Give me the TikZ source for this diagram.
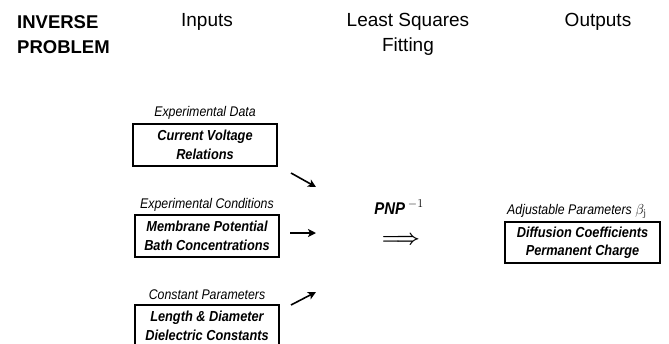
\documentclass[tikz,border=0pt]{standalone}
\usepackage[no-math]{fontspec}
\setmainfont{Liberation Sans}
\newfontfamily\condf[FakeStretch=0.88]{Liberation Sans}
\usetikzlibrary{arrows.meta}
\begin{document}
\begin{tikzpicture}[x=1pt,y=-1pt,
  hdr/.style={font=\fontsize{19}{21}\selectfont, inner sep=0pt},
  hdrb/.style={hdr, font=\fontsize{18.5}{21}\selectfont\bfseries, anchor=west},
  lbl/.style={font=\fontsize{14}{16}\selectfont\condf\itshape, inner sep=0pt},
  inbox/.style={draw, line width=1.3pt, minimum width=144pt, minimum height=42pt,
    inner sep=0pt, align=center, font=\fontsize{14.5}{18.5}\selectfont\condf\bfseries\itshape},
  outbox/.style={inbox, minimum width=155pt, minimum height=41pt},
  arr/.style={line width=1.6pt, -{Stealth[length=8pt,width=8pt,inset=2pt]}}
]
\useasboundingbox (0,0) rectangle (669,343);
\clip (0,0) rectangle (669,343);
% headers
\node[hdrb] (h1) at (17,22) {INVERSE};
\node[hdrb] (h2) at (17,47) {PROBLEM};
\node[hdr] (h3) at (207,22) {Inputs};
\node[hdr] (h4) at (408,22) {Least Squares};
\node[hdr] (h5) at (408,47) {Fitting};
\node[hdr] (h6) at (598,22) {Outputs};
% inputs
\node[lbl] (l1) at (205,113) {Experimental Data};
\node[inbox] (b1) at (205,145) {Current Voltage\\Relations};
\node[lbl] (l2) at (207,205) {Experimental Conditions};
\node[inbox] (b2) at (207,236) {Membrane Potential\\Bath Concentrations};
\node[lbl] (l3) at (207,295) {Constant Parameters};
\node[inbox] (b3) at (207,326) {Length \& Diameter\\Dielectric Constants};
% arrows
\coordinate (a1s) at (291,173); \coordinate (a1e) at (316,187);
\coordinate (a2s) at (290,233); \coordinate (a2e) at (316,233);
\coordinate (a3s) at (291,305); \coordinate (a3e) at (316,292);
\draw[arr] (a1s) -- (a1e);
\draw[arr] (a2s) -- (a2e);
\draw[arr] (a3s) -- (a3e);
% PNP
\node[inner sep=0pt, font=\fontsize{17}{19}\selectfont\condf\bfseries\itshape] (pnp) at (399,207) {PNP\,$^{-1}$};
\node[inner sep=0pt, font=\fontsize{20}{22}\selectfont\boldmath] (imp) at (401,240) {$\Longrightarrow$};
% outputs
\node[lbl] (l4) at (577,211) {Adjustable Parameters $\beta_{\mathrm{j}}$};
\node[outbox] (b4) at (582.5,242.5) {Diffusion Coefficients\\Permanent Charge};
\end{tikzpicture}
\end{document}
